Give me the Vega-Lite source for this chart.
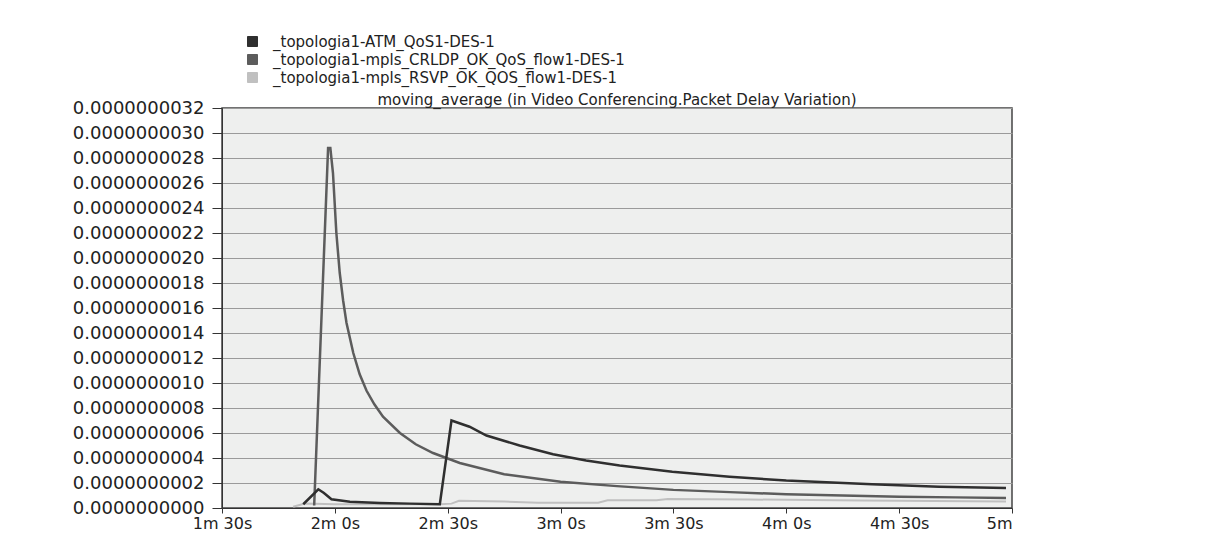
{
  "$schema": "https://vega.github.io/schema/vega-lite/v6.json",
  "width": 790,
  "height": 400,
  "autosize": {"type": "none"},
  "padding": {"left": 222, "top": 108, "right": 194, "bottom": 31},
  "background": "white",
  "title": {
    "text": "moving_average (in Video Conferencing.Packet Delay Variation)",
    "font": "DejaVu Sans",
    "fontSize": 15,
    "fontWeight": "normal",
    "color": "#222222",
    "offset": 3,
    "dy": 77,
    "anchor": "middle"
  },
  "config": {
    "view": {"fill": "#eeefee", "stroke": "#444444", "strokeWidth": 1.5},
    "font": "DejaVu Sans"
  },
  "data": {
    "values": [
      {"series": "_topologia1-ATM_QoS1-DES-1", "t": 111.6, "v": 3e-11},
      {"series": "_topologia1-ATM_QoS1-DES-1", "t": 115.6, "v": 1.5e-10},
      {"series": "_topologia1-ATM_QoS1-DES-1", "t": 117.1, "v": 1.2e-10},
      {"series": "_topologia1-ATM_QoS1-DES-1", "t": 119.1, "v": 7e-11},
      {"series": "_topologia1-ATM_QoS1-DES-1", "t": 124.0, "v": 5e-11},
      {"series": "_topologia1-ATM_QoS1-DES-1", "t": 132.0, "v": 4e-11},
      {"series": "_topologia1-ATM_QoS1-DES-1", "t": 139.9, "v": 3.5e-11},
      {"series": "_topologia1-ATM_QoS1-DES-1", "t": 147.9, "v": 3e-11},
      {"series": "_topologia1-ATM_QoS1-DES-1", "t": 151.0, "v": 7e-10},
      {"series": "_topologia1-ATM_QoS1-DES-1", "t": 155.8, "v": 6.5e-10},
      {"series": "_topologia1-ATM_QoS1-DES-1", "t": 160.3, "v": 5.8e-10},
      {"series": "_topologia1-ATM_QoS1-DES-1", "t": 169.1, "v": 5.0e-10},
      {"series": "_topologia1-ATM_QoS1-DES-1", "t": 178.0, "v": 4.3e-10},
      {"series": "_topologia1-ATM_QoS1-DES-1", "t": 186.8, "v": 3.8e-10},
      {"series": "_topologia1-ATM_QoS1-DES-1", "t": 195.7, "v": 3.4e-10},
      {"series": "_topologia1-ATM_QoS1-DES-1", "t": 209.7, "v": 2.9e-10},
      {"series": "_topologia1-ATM_QoS1-DES-1", "t": 224.9, "v": 2.5e-10},
      {"series": "_topologia1-ATM_QoS1-DES-1", "t": 240.0, "v": 2.2e-10},
      {"series": "_topologia1-ATM_QoS1-DES-1", "t": 262.8, "v": 1.9e-10},
      {"series": "_topologia1-ATM_QoS1-DES-1", "t": 280.6, "v": 1.7e-10},
      {"series": "_topologia1-ATM_QoS1-DES-1", "t": 298.4, "v": 1.6e-10},
      {"series": "_topologia1-mpls_CRLDP_OK_QoS_flow1-DES-1", "t": 114.5, "v": 2e-11},
      {"series": "_topologia1-mpls_CRLDP_OK_QoS_flow1-DES-1", "t": 118.2, "v": 2.88e-9},
      {"series": "_topologia1-mpls_CRLDP_OK_QoS_flow1-DES-1", "t": 118.8, "v": 2.88e-9},
      {"series": "_topologia1-mpls_CRLDP_OK_QoS_flow1-DES-1", "t": 119.5, "v": 2.68e-9},
      {"series": "_topologia1-mpls_CRLDP_OK_QoS_flow1-DES-1", "t": 120.4, "v": 2.2e-9},
      {"series": "_topologia1-mpls_CRLDP_OK_QoS_flow1-DES-1", "t": 121.3, "v": 1.88e-9},
      {"series": "_topologia1-mpls_CRLDP_OK_QoS_flow1-DES-1", "t": 122.2, "v": 1.66e-9},
      {"series": "_topologia1-mpls_CRLDP_OK_QoS_flow1-DES-1", "t": 123.1, "v": 1.48e-9},
      {"series": "_topologia1-mpls_CRLDP_OK_QoS_flow1-DES-1", "t": 124.9, "v": 1.24e-9},
      {"series": "_topologia1-mpls_CRLDP_OK_QoS_flow1-DES-1", "t": 126.6, "v": 1.07e-9},
      {"series": "_topologia1-mpls_CRLDP_OK_QoS_flow1-DES-1", "t": 128.4, "v": 9.4e-10},
      {"series": "_topologia1-mpls_CRLDP_OK_QoS_flow1-DES-1", "t": 130.5, "v": 8.3e-10},
      {"series": "_topologia1-mpls_CRLDP_OK_QoS_flow1-DES-1", "t": 132.8, "v": 7.3e-10},
      {"series": "_topologia1-mpls_CRLDP_OK_QoS_flow1-DES-1", "t": 137.3, "v": 6.0e-10},
      {"series": "_topologia1-mpls_CRLDP_OK_QoS_flow1-DES-1", "t": 141.5, "v": 5.1e-10},
      {"series": "_topologia1-mpls_CRLDP_OK_QoS_flow1-DES-1", "t": 146.1, "v": 4.4e-10},
      {"series": "_topologia1-mpls_CRLDP_OK_QoS_flow1-DES-1", "t": 153.2, "v": 3.6e-10},
      {"series": "_topologia1-mpls_CRLDP_OK_QoS_flow1-DES-1", "t": 165.0, "v": 2.7e-10},
      {"series": "_topologia1-mpls_CRLDP_OK_QoS_flow1-DES-1", "t": 180.0, "v": 2.1e-10},
      {"series": "_topologia1-mpls_CRLDP_OK_QoS_flow1-DES-1", "t": 195.0, "v": 1.75e-10},
      {"series": "_topologia1-mpls_CRLDP_OK_QoS_flow1-DES-1", "t": 210.0, "v": 1.45e-10},
      {"series": "_topologia1-mpls_CRLDP_OK_QoS_flow1-DES-1", "t": 225.0, "v": 1.27e-10},
      {"series": "_topologia1-mpls_CRLDP_OK_QoS_flow1-DES-1", "t": 240.0, "v": 1.1e-10},
      {"series": "_topologia1-mpls_CRLDP_OK_QoS_flow1-DES-1", "t": 255.0, "v": 1.0e-10},
      {"series": "_topologia1-mpls_CRLDP_OK_QoS_flow1-DES-1", "t": 270.0, "v": 9e-11},
      {"series": "_topologia1-mpls_CRLDP_OK_QoS_flow1-DES-1", "t": 285.0, "v": 8.5e-11},
      {"series": "_topologia1-mpls_CRLDP_OK_QoS_flow1-DES-1", "t": 298.4, "v": 8e-11},
      {"series": "_topologia1-mpls_RSVP_OK_QOS_flow1-DES-1", "t": 108.9, "v": 1e-11},
      {"series": "_topologia1-mpls_RSVP_OK_QOS_flow1-DES-1", "t": 112.0, "v": 3.5e-11},
      {"series": "_topologia1-mpls_RSVP_OK_QOS_flow1-DES-1", "t": 120.0, "v": 3e-11},
      {"series": "_topologia1-mpls_RSVP_OK_QOS_flow1-DES-1", "t": 135.0, "v": 3e-11},
      {"series": "_topologia1-mpls_RSVP_OK_QOS_flow1-DES-1", "t": 148.0, "v": 3e-11},
      {"series": "_topologia1-mpls_RSVP_OK_QOS_flow1-DES-1", "t": 151.0, "v": 3.5e-11},
      {"series": "_topologia1-mpls_RSVP_OK_QOS_flow1-DES-1", "t": 153.0, "v": 5.8e-11},
      {"series": "_topologia1-mpls_RSVP_OK_QOS_flow1-DES-1", "t": 165.0, "v": 5.2e-11},
      {"series": "_topologia1-mpls_RSVP_OK_QOS_flow1-DES-1", "t": 174.0, "v": 4.3e-11},
      {"series": "_topologia1-mpls_RSVP_OK_QOS_flow1-DES-1", "t": 190.0, "v": 4.3e-11},
      {"series": "_topologia1-mpls_RSVP_OK_QOS_flow1-DES-1", "t": 192.5, "v": 6.2e-11},
      {"series": "_topologia1-mpls_RSVP_OK_QOS_flow1-DES-1", "t": 205.5, "v": 6.2e-11},
      {"series": "_topologia1-mpls_RSVP_OK_QOS_flow1-DES-1", "t": 208.5, "v": 7.2e-11},
      {"series": "_topologia1-mpls_RSVP_OK_QOS_flow1-DES-1", "t": 230.0, "v": 6.8e-11},
      {"series": "_topologia1-mpls_RSVP_OK_QOS_flow1-DES-1", "t": 260.0, "v": 6e-11},
      {"series": "_topologia1-mpls_RSVP_OK_QOS_flow1-DES-1", "t": 298.4, "v": 5.2e-11}
    ]
  },
  "encoding": {
    "x": {
      "field": "t",
      "type": "quantitative",
      "scale": {"domain": [90, 300], "nice": false, "zero": false},
      "axis": {
        "title": null,
        "values": [90, 120, 150, 180, 210, 240, 270, 300],
        "grid": false,
        "tickSize": 5,
        "tickColor": "#333333",
        "domainColor": "#333333",
        "labelFont": "DejaVu Sans",
        "labelFontSize": 16,
        "labelColor": "#222222",
        "labelPadding": 2,
        "labelFlush": false,
        "labelOverlap": false,
        "labelExpr": "datum.value == 300 ? '5m' : floor(datum.value / 60) + 'm ' + (datum.value % 60) + 's'",
        "labelAlign": {"condition": {"test": "datum.value == 300", "value": "right"}, "value": "center"}
      }
    },
    "y": {
      "field": "v",
      "type": "quantitative",
      "scale": {"domain": [0, 3.2e-9], "nice": false, "zero": true},
      "axis": {
        "title": null,
        "values": [0, 2e-10, 4e-10, 6e-10, 8e-10, 1e-9, 1.2e-9, 1.4e-9, 1.6e-9, 1.8e-9, 2e-9, 2.2e-9, 2.4e-9, 2.6e-9, 2.8e-9, 3e-9, 3.2e-9],
        "format": ".10f",
        "grid": true,
        "gridColor": "#9a9a9a",
        "gridWidth": 1,
        "gridOpacity": 1,
        "tickSize": 10,
        "tickColor": "#333333",
        "domainColor": "#333333",
        "labelFont": "DejaVu Sans",
        "labelFontSize": 18,
        "labelColor": "#222222",
        "labelPadding": 8,
        "labelFlush": false,
        "labelOverlap": false
      }
    },
    "color": {
      "field": "series",
      "type": "nominal",
      "scale": {
        "domain": ["_topologia1-ATM_QoS1-DES-1", "_topologia1-mpls_CRLDP_OK_QoS_flow1-DES-1", "_topologia1-mpls_RSVP_OK_QOS_flow1-DES-1"],
        "range": ["#2f2f2f", "#5c5c5c", "#c0c0c0"]
      },
      "legend": {
        "title": null,
        "orient": "none",
        "legendX": 23,
        "legendY": -74,
        "padding": 0,
        "symbolType": "square",
        "symbolSize": 100,
        "symbolStrokeWidth": 1,
        "labelFont": "DejaVu Sans",
        "labelFontSize": 15,
        "labelColor": "#222222",
        "labelLimit": 600,
        "labelOffset": 13,
        "rowPadding": 2,
        "encode": {
          "symbols": {
            "update": {
              "fill": {"scale": "color", "field": "value"},
              "stroke": {"value": "#333333"},
              "fillOpacity": {"value": 1}
            }
          }
        }
      }
    }
  },
  "layer": [
    {
      "transform": [{"filter": "datum.series == '_topologia1-mpls_RSVP_OK_QOS_flow1-DES-1'"}],
      "mark": {"type": "line", "strokeWidth": 2}
    },
    {
      "transform": [{"filter": "datum.series == '_topologia1-mpls_CRLDP_OK_QoS_flow1-DES-1'"}],
      "mark": {"type": "line", "strokeWidth": 2.5}
    },
    {
      "transform": [{"filter": "datum.series == '_topologia1-ATM_QoS1-DES-1'"}],
      "mark": {"type": "line", "strokeWidth": 2.5}
    }
  ]
}
